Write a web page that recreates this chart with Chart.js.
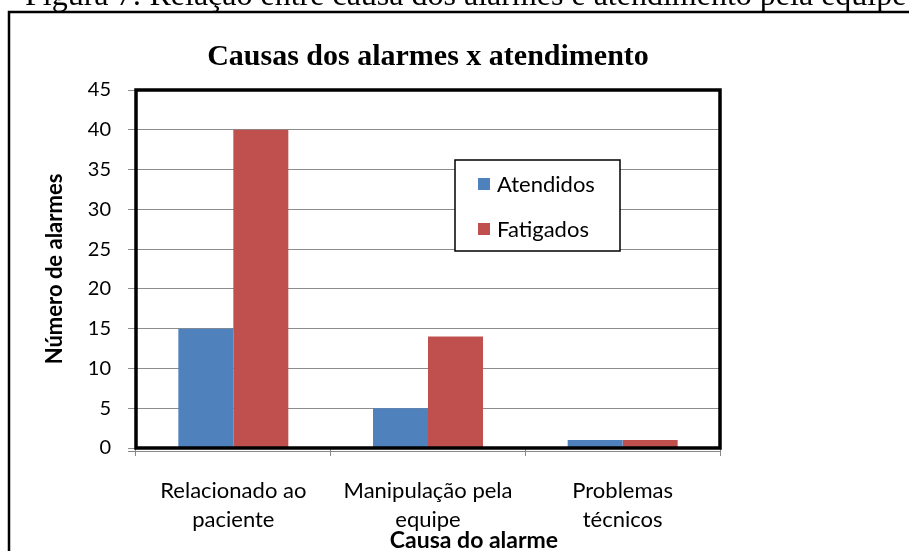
<!DOCTYPE html>
<html>
<head>
<meta charset="utf-8">
<script src="https://cdn.jsdelivr.net/npm/chart.js@4.4.1/dist/chart.umd.min.js"></script>
<style>
  html, body { margin: 0; padding: 0; background: #fff; }
  #wrap { position: relative; width: 909px; height: 551px; overflow: hidden; }
</style>
</head>
<body>
<div id="wrap"><canvas id="alarmChart" width="909" height="551"></canvas></div>
<script>
// dados
const categorias = [
    ['Relacionado ao', 'paciente'],
    ['Manipulação pela', 'equipe'],
    ['Problemas', 'técnicos']
];
const atendidos = [15, 5, 1];
const fatigados = [40, 14, 1];
const yTicks = [0, 5, 10, 15, 20, 25, 30, 35, 40, 45];

const legenda = ['Atendidos', 'Fatigados'];
const tituloGrafico = 'Causas dos alarmes x atendimento';
const tituloX = 'Causa do alarme';
const tituloY = 'Número de alarmes';
const legendaFigura = 'Figura 7: Relação entre causa dos alarmes e atendimento pela equipe';

const AZUL = '#4F81BD';
const VERMELHO = '#C0504D';
const FONTE = 'Lato, "Open Sans", sans-serif';
const SERIFA = '"Liberation Serif", "Times New Roman", serif';

// moldura da figura, legenda da figura (cortada no topo), título do eixo x e legenda
const pagePlugin = {
    id: 'pageFrame',
    beforeDraw(chart) {
        const ctx = chart.ctx;
        ctx.save();
        ctx.fillStyle = '#fff';
        ctx.fillRect(0, 0, chart.width, chart.height);
        ctx.fillStyle = '#000';
        ctx.font = '32px ' + SERIFA;
        ctx.textAlign = 'left';
        ctx.textBaseline = 'alphabetic';
        ctx.fillText(legendaFigura, 25, 5);
        ctx.strokeStyle = '#000';
        ctx.lineWidth = 2.5;
        ctx.strokeRect(9, 12, 1000, 700);
        ctx.restore();
    },
    afterDraw(chart) {
        const ctx = chart.ctx;
        const a = chart.chartArea;
        ctx.save();
        // linha do eixo x logo abaixo da moldura
        ctx.strokeStyle = '#888';
        ctx.lineWidth = 1;
        ctx.beginPath();
        ctx.moveTo(a.left - 8, a.bottom + 3.5);
        ctx.lineTo(a.right, a.bottom + 3.5);
        ctx.stroke();
        // moldura grossa da área do gráfico
        ctx.strokeStyle = '#000';
        ctx.lineWidth = 3.5;
        ctx.strokeRect(a.left, a.top, a.right - a.left, a.bottom - a.top);

        // título do eixo x (deslocado como no original)
        ctx.fillStyle = '#000';
        ctx.font = 'bold 23px ' + FONTE;
        ctx.textAlign = 'center';
        ctx.textBaseline = 'alphabetic';
        ctx.fillText(tituloX, (a.left + a.right) / 2 + 46, chart.height - 3);

        // legenda dentro da área
        const bx = a.left + 319, by = a.top + 70, bw = 165, bh = 91;
        ctx.fillStyle = '#fff';
        ctx.fillRect(bx, by, bw, bh);
        ctx.lineWidth = 1.5;
        ctx.strokeRect(bx, by, bw, bh);
        ctx.font = '22px ' + FONTE;
        ctx.textBaseline = 'middle';
        ctx.textAlign = 'left';
        chart.data.datasets.forEach((ds, i) => {
            const cy = by + 24 + i * 45;
            ctx.fillStyle = ds.backgroundColor;
            ctx.fillRect(bx + 23, cy - 6, 12, 12);
            ctx.fillStyle = '#000';
            ctx.fillText(ds.label, bx + 42, cy + 1);
        });
        ctx.restore();
    }
};

const ctx = document.getElementById('alarmChart').getContext('2d');
new Chart(ctx, {
    type: 'bar',
    data: {
        labels: categorias,
        datasets: [
            { label: legenda[0], data: atendidos, backgroundColor: AZUL },
            { label: legenda[1], data: fatigados, backgroundColor: VERMELHO }
        ]
    },
    options: {
        responsive: false,
        animation: false,
        layout: { padding: { left: 0, right: 189, top: 0, bottom: 0 } },
        datasets: {
            bar: { categoryPercentage: 0.565, barPercentage: 1.0, borderWidth: 0 }
        },
        plugins: {
            legend: { display: false },
            tooltip: { enabled: false },
            title: {
                display: true,
                text: tituloGrafico,
                fullSize: false,
                color: '#000',
                font: { family: SERIFA, size: 30, weight: 'bold' },
                padding: { top: 39, bottom: 15 }
            }
        },
        scales: {
            x: {
                border: { display: false },
                grid: { drawOnChartArea: false, drawTicks: true, tickLength: 8, color: '#888' },
                ticks: {
                    color: '#000',
                    font: { family: FONTE, size: 22, lineHeight: 1.32 },
                    padding: 20,
                    maxRotation: 0
                },
                afterFit(scale) { scale.height = 103; }
            },
            y: {
                min: 0,
                max: 45,
                border: { display: false },
                grid: { color: '#8c8c8c', lineWidth: 1, tickLength: 8 },
                afterBuildTicks(scale) { scale.ticks = yTicks.map(v => ({ value: v })); },
                ticks: {
                    color: '#000',
                    font: { family: FONTE, size: 20 },
                    padding: 17
                },
                title: {
                    display: true,
                    text: tituloY,
                    color: '#000',
                    font: { family: FONTE, size: 22, weight: 'bold' },
                    padding: { top: 42, bottom: 0 }
                },
                afterFit(scale) { scale.width = 136; }
            }
        }
    },
    plugins: [pagePlugin]
});
</script>
</body>
</html>
